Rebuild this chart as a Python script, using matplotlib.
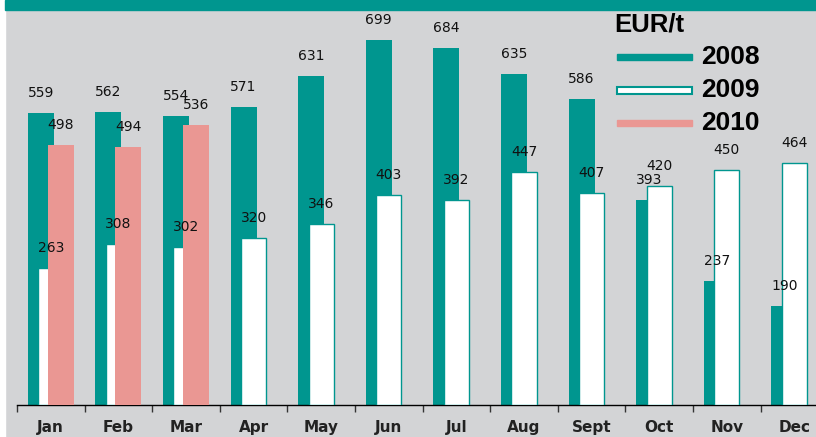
import numpy as np
import matplotlib.pyplot as plt
from matplotlib.patches import Rectangle

# Datos
months = ['Jan', 'Feb', 'Mar', 'Apr', 'May', 'Jun', 'Jul', 'Aug', 'Sept', 'Oct', 'Nov', 'Dec']
v2008 = [559, 562, 554, 571, 631, 699, 684, 635, 586, 393, 237, 190]
v2009 = [263, 308, 302, 320, 346, 403, 392, 447, 407, 420, 450, 464]
v2010 = [498, 494, 536]

teal = '#00968f'
pink = '#ea9793'
gray = '#d3d4d6'

W, H = 816, 437
fig = plt.figure(figsize=(W / 100, H / 100), dpi=100, facecolor=gray)

# franja blanca izquierda y banda superior
fig.patches.append(Rectangle((0, 0), 5 / W, 1, transform=fig.transFigure,
                             color='white', zorder=0))
fig.patches.append(Rectangle((5 / W, 1 - 10 / H), 1, 10 / H, transform=fig.transFigure,
                             color=teal, zorder=0))

ax = fig.add_axes([17 / W, 32 / H, (W - 17) / W, 395 / H])
ax.set_facecolor('none')

x = np.arange(len(months))
bw = 0.385
off = 0.148

b1 = ax.bar(x - off, v2008, bw, color=teal, zorder=2)
b2 = ax.bar(x, v2009, bw - 0.015, color='white', edgecolor=teal, linewidth=1, zorder=3)
x10 = x[:len(v2010)] + off
b3 = ax.bar(x10, v2010, bw, color=pink, zorder=4)

# Etiquetas de valores
for bars, vals in [(b1, v2008), (b2, v2009), (b3, v2010)]:
    for b, v in zip(bars, vals):
        ax.annotate(str(v), (b.get_x() + b.get_width() / 2, v),
                    xytext=(0, 20), textcoords='offset pixels',
                    ha='center', va='center', fontsize=10, color='#111111', zorder=5)

ax.set_xlim(-0.5, -0.5 + (W - 17) / 67.6)
ax.set_ylim(0, 395 / 0.522)

# Ejes
for s in ['top', 'right', 'left']:
    ax.spines[s].set_visible(False)
ax.spines['bottom'].set_color('black')
ax.spines['bottom'].set_linewidth(1)
ax.set_yticks([])
ax.set_xticks(np.arange(len(months)) - 0.5)
ax.set_xticklabels([])
ax.tick_params(axis='x', which='major', direction='out', length=5, width=1, color='#333333')
ax.set_xticks(x, minor=True)
ax.set_xticklabels(months, minor=True, fontsize=11, fontweight='bold', color='#222222',
                   family=['Liberation Sans Narrow', 'DejaVu Sans'])
ax.tick_params(axis='x', which='minor', length=0, pad=11)

# Leyenda dibujada a mano
def px(xp, yp):
    return xp / W, 1 - yp / H

fig.text(*px(614, 24), 'EUR/t', fontsize=18.5, fontweight='bold', family='Liberation Sans',
         va='center', ha='left')
entries = [('2008', 57, dict(color=teal)),
           ('2009', 90, dict(facecolor='white', edgecolor=teal, linewidth=1.5)),
           ('2010', 123, dict(color=pink))]
for lab, yc, style in entries:
    h = 7 if lab == '2009' else 6
    fig.patches.append(Rectangle(px(617, yc + h / 2), 75 / W, h / H,
                                 transform=fig.transFigure, **style))
    fig.text(*px(701, yc), lab, fontsize=19, fontweight='bold', family='Liberation Sans',
             va='center', ha='left')

plt.savefig('out.png', dpi=100, facecolor=gray)
